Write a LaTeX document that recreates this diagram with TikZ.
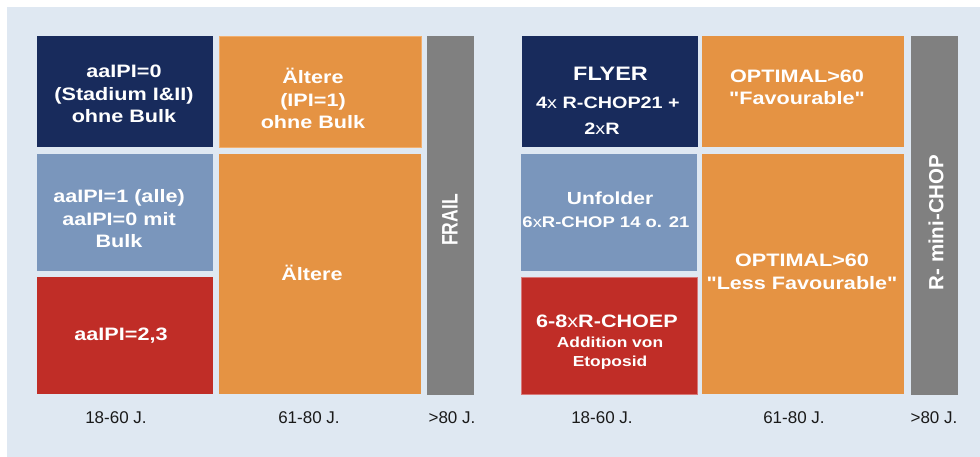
\documentclass[tikz,border=0pt]{standalone}
\usepackage{fontspec}
\setmainfont{Liberation Sans}
\newfontfamily\bw[FakeStretch=1.2]{Liberation Sans}
\usetikzlibrary{fit}
\definecolor{bgblue}{HTML}{DFE8F2}
\definecolor{navy}{HTML}{182B5C}
\definecolor{steel}{HTML}{7A96BC}
\definecolor{cred}{HTML}{C02D27}
\definecolor{corange}{HTML}{E59343}
\definecolor{cgray}{HTML}{808080}
\definecolor{ink}{HTML}{1A1A1A}
\tikzset{
  tile/.style={inner sep=0pt, outer sep=0pt, draw=none, fill=#1},
  txt/.style={text=white, align=center, inner sep=0pt, font=\bw\bfseries\fontsize{18}{22.5}\selectfont},
  vtxt/.style={text=white, inner sep=0pt, rotate=90, font=\bfseries\fontsize{17.5}{20}\selectfont},
  age/.style={text=ink, inner sep=0pt, font=\fontsize{17}{20}\selectfont},
}
\newcommand\smx{{\mdseries x}}
\begin{document}
\begin{tikzpicture}[x=1pt,y=-1pt]
\useasboundingbox (0,0) rectangle (980,457);
\fill[white] (0,0) rectangle (980,457);
\fill[bgblue] (7,7) rectangle (980,457);
% ---------- left panel ----------
\node[tile=navy,   fit={(37,36) (213,147)}]  (Ln) {};
\node[tile=steel,  fit={(37,154) (213,271)}] (Ls) {};
\node[tile=cred,   fit={(37,277) (213,394)}] (Lr) {};
\node[tile=corange,fit={(219,36) (421,147)}, draw={rgb,255:red,242;green,175;blue,110}, line width=0.8pt] (Lo1) {};
\node[tile=corange,fit={(219,154) (421,394)}] (Lo2) {};
\node[tile=cgray,  fit={(427,36) (474,395)}] (Lg) {};

\node[txt] (tLn) at (124,94) {aaIPI=0\\(Stadium I\&II)\\ohne Bulk};
\node[txt] (tLo1) at (313,98.5) {Ältere\\(IPI=1)\\ohne Bulk};
\node[txt] (tLs) at (119,219) {aaIPI=1 (alle)\\aaIPI=0 mit\\Bulk};
\node[txt] (tLr) at (121,336) {aaIPI=2,3};
\node[txt] (tLo2) at (312,273) {Ältere};
\node[vtxt] (tLg) at (450,220) {\scalebox{1}[1.28]{FRAIL}};

\node[age] (aL1) at (116,418) {18-60 J.};
\node[age] (aL2) at (309,418) {61-80 J.};
\node[age] (aL3) at (452,418) {>80 J.};

% ---------- right panel ----------
\node[tile=navy,   fit={(522,36) (698,147)}]  (Rn) {};
\node[tile=steel,  fit={(521,154) (697,271)}] (Rs) {};
\node[tile=cred,   fit={(521,277) (697,394)}, draw={rgb,255:red,215;green,120;blue,120}, line width=0.6pt] (Rr) {};
\node[tile=corange,fit={(702,36) (904,147)}]  (Ro1) {};
\node[tile=corange,fit={(702,154) (904,394)}] (Ro2) {};
\node[tile=cgray,  fit={(911,36) (958,395)}]  (Rg) {};

\node[txt, font=\bw\bfseries\fontsize{19.5}{22}\selectfont] (tRn1) at (610.5,74) {FLYER};
\node[txt, font=\bw\bfseries\fontsize{16.5}{20}\selectfont] (tRn2) at (608,103) {4\smx{} R-CHOP21 +};
\node[txt, font=\bw\bfseries\fontsize{16.5}{20}\selectfont] (tRn3) at (602,129) {2\smx R};

\node[txt] (tRo1) at (797,87.5) {OPTIMAL>60\\"Favourable"};

\node[txt, font=\bw\bfseries\fontsize{17.5}{20}\selectfont] (tRs1) at (610,198) {Unfolder};
\node[txt, font=\bw\bfseries\fontsize{15.4}{20}\selectfont] (tRs2) at (606,222) {6\smx R-CHOP 14 o. 21};

\node[txt, font=\bw\bfseries\fontsize{18}{22}\selectfont] (tRr1) at (607,321) {6-8\smx R-CHOEP};
\node[txt, font=\bw\bfseries\fontsize{14.5}{19}\selectfont] (tRr2) at (610,353.5) {Addition von\\Etoposid};

\node[txt] (tRo2) at (802,272) {OPTIMAL>60\\"Less Favourable"};
\node[vtxt, font=\bfseries\fontsize{20.5}{22}\selectfont] (tRg) at (936,222.5) {R- mini-CHOP};

\node[age] (aR1) at (602,418) {18-60 J.};
\node[age] (aR2) at (794,418) {61-80 J.};
\node[age] (aR3) at (934,418) {>80 J.};
\end{tikzpicture}
\end{document}
